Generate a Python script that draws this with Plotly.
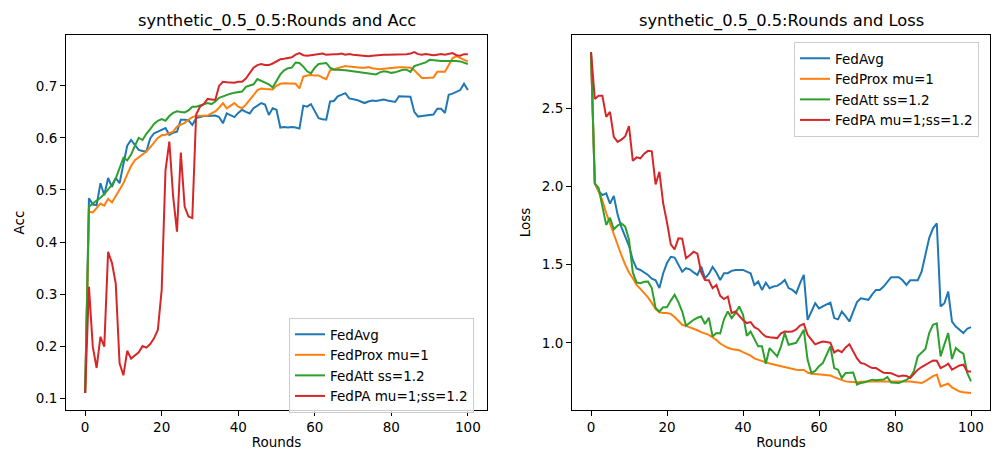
import plotly.graph_objects as go

rounds = list(range(101))
series_names = ["FedAvg", "FedProx mu=1", "FedAtt ss=1.2", "FedPA mu=1;ss=1.2"]
colors = ["#1f77b4", "#ff7f0e", "#2ca02c", "#d62728"]
x_ticks = [0, 20, 40, 60, 80, 100]
acc_ticks = [0.1, 0.2, 0.3, 0.4, 0.5, 0.6, 0.7]
loss_ticks = [1.0, 1.5, 2.0, 2.5]

acc_fedavg = [0.11, 0.484, 0.472, 0.471, 0.513, 0.490, 0.523, 0.506, 0.523, 0.513,
              0.55, 0.585, 0.596, 0.587, 0.577, 0.575, 0.574, 0.599, 0.609, 0.612,
              0.615, 0.619, 0.606, 0.610, 0.612, 0.635, 0.635, 0.634, 0.625, 0.638,
              0.640, 0.642, 0.642, 0.643, 0.643, 0.640, 0.628, 0.647, 0.644, 0.640,
              0.648, 0.654, 0.650, 0.647, 0.657, 0.662, 0.667, 0.664, 0.644, 0.657,
              0.654, 0.620, 0.621, 0.620, 0.621, 0.620, 0.618, 0.662, 0.660, 0.665,
              0.650, 0.638, 0.636, 0.635, 0.670, 0.671, 0.680, 0.683, 0.686, 0.676,
              0.675, 0.673, 0.670, 0.667, 0.670, 0.672, 0.671, 0.673, 0.674, 0.672,
              0.671, 0.669, 0.680, 0.680, 0.680, 0.679, 0.650, 0.641, 0.642, 0.643,
              0.644, 0.645, 0.656, 0.656, 0.648, 0.683, 0.685, 0.688, 0.692, 0.704,
              0.692]
acc_fedprox = [0.11, 0.458, 0.457, 0.465, 0.474, 0.470, 0.483, 0.476, 0.488, 0.500,
               0.513, 0.530, 0.546, 0.557, 0.563, 0.568, 0.574, 0.582, 0.592, 0.600,
               0.605, 0.606, 0.609, 0.612, 0.622, 0.626, 0.629, 0.635, 0.640, 0.642,
               0.642, 0.642, 0.643, 0.647, 0.651, 0.658, 0.667, 0.657, 0.662, 0.667,
               0.660, 0.657, 0.664, 0.672, 0.682, 0.692, 0.695, 0.694, 0.693, 0.693,
               0.700, 0.704, 0.705, 0.705, 0.705, 0.704, 0.695, 0.718, 0.720, 0.721,
               0.720, 0.720, 0.716, 0.713, 0.730, 0.732, 0.733, 0.736, 0.738, 0.737,
               0.736, 0.736, 0.735, 0.735, 0.736, 0.734, 0.733, 0.732, 0.733, 0.734,
               0.735, 0.735, 0.736, 0.736, 0.736, 0.735, 0.730, 0.722, 0.715, 0.715,
               0.716, 0.716, 0.727, 0.727, 0.727, 0.740, 0.753, 0.757, 0.753, 0.750,
               0.747]
acc_fedatt = [0.11, 0.468, 0.474, 0.479, 0.485, 0.492, 0.500, 0.510, 0.522, 0.543,
              0.562, 0.557, 0.568, 0.585, 0.600, 0.596, 0.608, 0.617, 0.627, 0.633,
              0.636, 0.633, 0.642, 0.648, 0.651, 0.650, 0.649, 0.653, 0.660, 0.660,
              0.662, 0.665, 0.667, 0.665, 0.670, 0.677, 0.680, 0.682, 0.685, 0.687,
              0.688, 0.689, 0.698, 0.700, 0.703, 0.713, 0.710, 0.707, 0.703, 0.697,
              0.710, 0.722, 0.730, 0.734, 0.735, 0.745, 0.744, 0.737, 0.728, 0.724,
              0.735, 0.742, 0.743, 0.744, 0.735, 0.731, 0.731, 0.731, 0.730, 0.729,
              0.728, 0.727, 0.725, 0.724, 0.723, 0.722, 0.722, 0.726, 0.728, 0.727,
              0.725, 0.726, 0.729, 0.731, 0.731, 0.727, 0.738, 0.740, 0.742, 0.745,
              0.750, 0.749, 0.748, 0.748, 0.748, 0.748, 0.749, 0.748, 0.747, 0.745,
              0.742]
acc_fedpa = [0.11, 0.314, 0.199, 0.158, 0.218, 0.199, 0.381, 0.360, 0.320, 0.167,
             0.144, 0.191, 0.176, 0.182, 0.188, 0.200, 0.197, 0.204, 0.215, 0.231,
             0.308, 0.538, 0.593, 0.487, 0.420, 0.572, 0.468, 0.449, 0.446, 0.645,
             0.660, 0.665, 0.675, 0.674, 0.673, 0.700, 0.708, 0.707, 0.706, 0.706,
             0.708, 0.708, 0.714, 0.725, 0.735, 0.740, 0.742, 0.740, 0.740, 0.743,
             0.747, 0.751, 0.752, 0.753, 0.755, 0.760, 0.763, 0.759, 0.758, 0.759,
             0.760, 0.761, 0.762, 0.760, 0.761, 0.761, 0.761, 0.762, 0.760, 0.761,
             0.760, 0.759, 0.758, 0.757, 0.757, 0.758, 0.759, 0.759, 0.760, 0.760,
             0.760, 0.760, 0.760, 0.761, 0.761, 0.762, 0.765, 0.761, 0.760, 0.761,
             0.760, 0.759, 0.760, 0.761, 0.760, 0.761, 0.763, 0.759, 0.758, 0.761,
             0.761]

loss_fedavg = [2.86, 2.02, 1.97, 1.945, 1.956, 1.89, 1.94, 1.82, 1.74, 1.68,
               1.62, 1.53, 1.475, 1.466, 1.45, 1.434, 1.41, 1.40, 1.35, 1.445,
               1.51, 1.55, 1.545, 1.50, 1.455, 1.477, 1.47, 1.45, 1.434, 1.487,
               1.413, 1.44, 1.485, 1.45, 1.402, 1.445, 1.445, 1.46, 1.466, 1.466,
               1.466, 1.455, 1.445, 1.37, 1.392, 1.338, 1.385, 1.349, 1.36, 1.364,
               1.38, 1.402, 1.35, 1.338, 1.317, 1.38, 1.434, 1.147, 1.20, 1.253,
               1.22, 1.235, 1.245, 1.257, 1.158, 1.15, 1.20, 1.17, 1.136, 1.20,
               1.26, 1.285, 1.28, 1.275, 1.31, 1.338, 1.338, 1.36, 1.39, 1.42,
               1.42, 1.42, 1.40, 1.37, 1.40, 1.402, 1.40, 1.455, 1.56, 1.67,
               1.732, 1.764, 1.232, 1.253, 1.328, 1.136, 1.104, 1.08, 1.062, 1.09,
               1.10]
loss_fedprox = [2.86, 2.02, 1.97, 1.91, 1.83, 1.76, 1.69, 1.62, 1.56, 1.50,
                1.45, 1.413, 1.37, 1.345, 1.32, 1.29, 1.255, 1.215, 1.195, 1.19,
                1.19, 1.185, 1.165, 1.14, 1.115, 1.108, 1.100, 1.09, 1.08, 1.068,
                1.06, 1.051, 1.035, 1.018, 0.995, 0.98, 0.968, 0.96, 0.955, 0.952,
                0.94, 0.928, 0.918, 0.90, 0.89, 0.881, 0.875, 0.868, 0.862, 0.858,
                0.85, 0.842, 0.838, 0.833, 0.828, 0.826, 0.826, 0.81, 0.802, 0.80,
                0.798, 0.796, 0.796, 0.79, 0.78, 0.77, 0.76, 0.753, 0.75, 0.747,
                0.748, 0.75, 0.752, 0.752, 0.752, 0.752, 0.752, 0.752, 0.752, 0.751,
                0.749, 0.748, 0.75, 0.752, 0.753, 0.749, 0.745, 0.743, 0.755, 0.772,
                0.787, 0.796, 0.721, 0.73, 0.738, 0.715, 0.70, 0.688, 0.684, 0.681,
                0.679]
loss_fedatt = [2.86, 2.02, 1.99, 1.88, 1.754, 1.80, 1.726, 1.75, 1.764, 1.743,
               1.66, 1.45, 1.385, 1.381, 1.39, 1.392, 1.35, 1.222, 1.20, 1.228,
               1.228, 1.27, 1.307, 1.26, 1.20, 1.109, 1.13, 1.147, 1.16, 1.168,
               1.12, 1.16, 1.04, 1.062, 1.06, 1.15, 1.20, 1.158, 1.19, 1.232,
               1.18, 1.045, 1.072, 1.019, 0.977, 0.977, 0.866, 0.966, 0.94, 0.913,
               0.977, 1.062, 0.987, 0.995, 1.0, 1.04, 1.083, 0.891, 0.807, 0.82,
               0.85, 0.87, 0.92, 0.977, 0.838, 0.828, 0.775, 0.807, 0.808, 0.81,
               0.732, 0.743, 0.748, 0.755, 0.764, 0.76, 0.762, 0.765, 0.78, 0.745,
               0.744, 0.743, 0.753, 0.762, 0.78, 0.82, 0.913, 0.935, 0.96, 1.062,
               1.115, 1.124, 0.913, 0.99, 1.062, 0.896, 0.966, 0.945, 0.93, 0.807,
               0.753]
loss_fedpa = [2.86, 2.56, 2.58, 2.58, 2.445, 2.477, 2.317, 2.285, 2.30, 2.32,
              2.386, 2.164, 2.186, 2.18, 2.21, 2.228, 2.225, 2.013, 2.094, 1.892,
              1.77, 1.63, 1.598, 1.668, 1.666, 1.541, 1.56, 1.583, 1.57, 1.45,
              1.402, 1.40, 1.349, 1.37, 1.30, 1.28, 1.296, 1.19, 1.20, 1.17,
              1.145, 1.126, 1.132, 1.10, 1.087, 1.06, 1.04, 1.036, 1.033, 1.03,
              1.06, 1.072, 1.07, 1.072, 1.085, 1.11, 1.121, 1.051, 1.02, 0.99,
              1.0, 1.008, 1.005, 1.0, 0.938, 0.953, 0.94, 0.97, 0.99, 0.94,
              0.90, 0.87, 0.865, 0.85, 0.838, 0.838, 0.825, 0.808, 0.807, 0.805,
              0.795, 0.785, 0.79, 0.788, 0.775, 0.80, 0.828, 0.845, 0.86, 0.875,
              0.887, 0.885, 0.838, 0.85, 0.866, 0.828, 0.84, 0.855, 0.86, 0.817,
              0.817]

acc_series = [acc_fedavg, acc_fedprox, acc_fedatt, acc_fedpa]
loss_series = [loss_fedavg, loss_fedprox, loss_fedatt, loss_fedpa]

W, H = 993, 450
FONT = "DejaVu Sans, Liberation Sans, sans-serif"
TICK_SIZE = 13.5
TITLE_SIZE = 16.3


def px_x(p):
    return p / W


def px_y(p):
    return 1 - p / H


fig = go.Figure()
for name, color, ys in zip(series_names, colors, acc_series):
    fig.add_trace(go.Scatter(x=rounds, y=ys, mode="lines", name=name,
                             line=dict(color=color, width=2),
                             xaxis="x", yaxis="y", legend="legend"))
for name, color, ys in zip(series_names, colors, loss_series):
    fig.add_trace(go.Scatter(x=rounds, y=ys, mode="lines", name=name,
                             line=dict(color=color, width=2),
                             xaxis="x2", yaxis="y2", legend="legend2"))


def pad_range(vals, frac=0.05):
    lo = min(min(v) for v in vals)
    hi = max(max(v) for v in vals)
    r = hi - lo
    return [lo - frac * r, hi + frac * r]


axis_common = dict(showline=True, linecolor="black", linewidth=1, mirror=True,
                   ticks="outside", ticklen=5, tickwidth=1, tickcolor="black",
                   showgrid=False, zeroline=False,
                   tickfont=dict(family=FONT, size=TICK_SIZE, color="black"))

y_dom = [px_y(410), px_y(35)]
fig.update_layout(
    width=W, height=H,
    margin=dict(l=0, r=0, t=0, b=0),
    paper_bgcolor="white", plot_bgcolor="white",
    font=dict(family=FONT, size=TICK_SIZE, color="black"),
    xaxis=dict(domain=[px_x(66), px_x(487)], range=[-5, 105], tickvals=x_ticks,
               anchor="y", title=dict(text="Rounds", standoff=6,
                                      font=dict(family=FONT, size=TICK_SIZE)),
               **axis_common),
    yaxis=dict(domain=y_dom, range=pad_range(acc_series), tickvals=acc_ticks,
               tickformat=".1f", anchor="x",
               title=dict(text="Acc", standoff=8, font=dict(family=FONT, size=TICK_SIZE)),
               **axis_common),
    xaxis2=dict(domain=[px_x(572), px_x(990)], range=[-5, 105], tickvals=x_ticks,
                anchor="y2", title=dict(text="Rounds", standoff=6,
                                        font=dict(family=FONT, size=TICK_SIZE)),
                **axis_common),
    yaxis2=dict(domain=y_dom, range=pad_range(loss_series), tickvals=loss_ticks,
                tickformat=".1f", anchor="x2",
                title=dict(text="Loss", standoff=8, font=dict(family=FONT, size=TICK_SIZE)),
                **axis_common),
    legend=dict(x=px_x(289), y=px_y(318), xanchor="left", yanchor="top",
                bgcolor="rgba(255,255,255,0.8)", bordercolor="#cccccc", borderwidth=1,
                font=dict(family=FONT, size=TICK_SIZE), itemwidth=30,
                tracegroupgap=0),
    legend2=dict(x=px_x(794), y=px_y(42), xanchor="left", yanchor="top",
                 bgcolor="rgba(255,255,255,0.8)", bordercolor="#cccccc", borderwidth=1,
                 font=dict(family=FONT, size=TICK_SIZE), itemwidth=30,
                 tracegroupgap=0),
    showlegend=True,
)

fig.add_annotation(text="synthetic_0.5_0.5:Rounds and Acc", x=px_x(276.5), y=px_y(21),
                   xref="paper", yref="paper", xanchor="center", yanchor="middle",
                   showarrow=False, font=dict(family=FONT, size=TITLE_SIZE, color="black"))
fig.add_annotation(text="synthetic_0.5_0.5:Rounds and Loss", x=px_x(781), y=px_y(21),
                   xref="paper", yref="paper", xanchor="center", yanchor="middle",
                   showarrow=False, font=dict(family=FONT, size=TITLE_SIZE, color="black"))

fig.write_html("out.html")
